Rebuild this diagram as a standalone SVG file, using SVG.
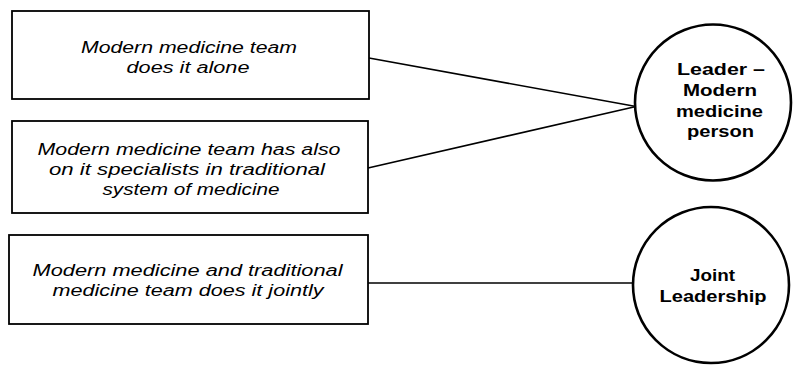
<svg xmlns="http://www.w3.org/2000/svg" width="793" height="368" viewBox="0 0 793 368">
<style>
.box{fill:#fff;stroke:#000;stroke-width:1.8}
.circ{fill:#fff;stroke:#000;stroke-width:2.6}
.conn{stroke:#000;stroke-width:1.6;fill:none}
.it{font-family:"Liberation Sans",Arial,sans-serif;font-style:italic;font-size:16px;text-anchor:middle;fill:#000}
.bd{font-family:"Liberation Sans",Arial,sans-serif;font-weight:bold;font-size:16.5px;text-anchor:middle;fill:#000}
</style>
<rect width="793" height="368" fill="#fff"/>
<g id="connectors">
<line class="conn" x1="369" y1="58" x2="636" y2="106.5"/>
<line class="conn" x1="368" y1="168" x2="636" y2="106.5"/>
<line class="conn" x1="368" y1="283" x2="634" y2="283"/>
</g>
<g id="box1">
<rect class="box" x="12" y="11" width="357" height="88"/>
<text class="it" x="189" y="53" textLength="216" lengthAdjust="spacingAndGlyphs">Modern medicine team</text>
<text class="it" x="188" y="73" textLength="123" lengthAdjust="spacingAndGlyphs">does it alone</text>
</g>
<g id="box2">
<rect class="box" x="12" y="121" width="356" height="92"/>
<text class="it" x="189" y="155" textLength="303" lengthAdjust="spacingAndGlyphs">Modern medicine team has also</text>
<text class="it" x="187" y="175" textLength="276" lengthAdjust="spacingAndGlyphs">on it specialists in traditional</text>
<text class="it" x="191" y="195" textLength="177" lengthAdjust="spacingAndGlyphs">system of medicine</text>
</g>
<g id="box3">
<rect class="box" x="9" y="235" width="359" height="89"/>
<text class="it" x="187.5" y="276" textLength="310" lengthAdjust="spacingAndGlyphs">Modern medicine and traditional</text>
<text class="it" x="188" y="296" textLength="271" lengthAdjust="spacingAndGlyphs">medicine team does it jointly</text>
</g>
<g id="leader">
<circle class="circ" cx="713" cy="102.5" r="78"/>
<text class="bd" x="721" y="75" textLength="88" lengthAdjust="spacingAndGlyphs">Leader –</text>
<text class="bd" x="720" y="96" textLength="74" lengthAdjust="spacingAndGlyphs">Modern</text>
<text class="bd" x="719.5" y="117" textLength="87" lengthAdjust="spacingAndGlyphs">medicine</text>
<text class="bd" x="720.5" y="137" textLength="67" lengthAdjust="spacingAndGlyphs">person</text>
</g>
<g id="joint">
<circle class="circ" cx="711" cy="285" r="78"/>
<text class="bd" x="712.5" y="281" textLength="45" lengthAdjust="spacingAndGlyphs">Joint</text>
<text class="bd" x="713" y="302" textLength="107" lengthAdjust="spacingAndGlyphs">Leadership</text>
</g>
</svg>
